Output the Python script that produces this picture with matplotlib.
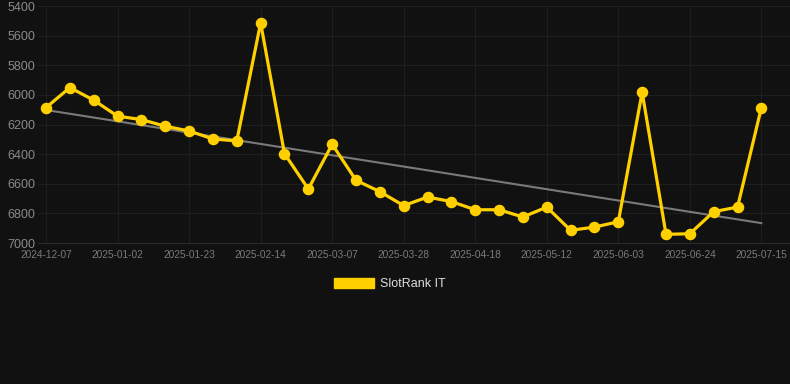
import matplotlib
matplotlib.use("Agg")
import matplotlib.pyplot as plt
from matplotlib.patches import Patch
import numpy as np

# SlotRank IT rank, one value per point (evenly spaced on the x axis)
rank = [6085, 5950, 6035, 6143, 6166, 6211, 6243, 6297, 6310, 5513,
        6396, 6635, 6333, 6576, 6653, 6747, 6689, 6720, 6775, 6775,
        6824, 6757, 6914, 6892, 6856, 5981, 6941, 6937, 6788, 6757,
        6085]
tick_labels = ["2024-12-07", "2025-01-02", "2025-01-23", "2025-02-14",
               "2025-03-07", "2025-03-28", "2025-04-18", "2025-05-12",
               "2025-06-03", "2025-06-24", "2025-07-15"]
y_ticks = [5400, 5600, 5800, 6000, 6200, 6400, 6600, 6800, 7000]

bg = "#111111"
gold = "#FFD000"

plt.rcParams['font.family'] = ['Liberation Sans', 'DejaVu Sans']

fig = plt.figure(figsize=(7.9, 3.84), dpi=100, facecolor=bg)
ax = fig.add_axes([0.048, 0.367, 0.952, 0.617], facecolor=bg)

x = np.arange(len(rank))
y = np.array(rank, dtype=float)

# trend line (least squares)
k, b = np.polyfit(x, y, 1)
ax.plot(x, k * x + b, color="#7a7a7a", lw=1.5, zorder=2)

ax.plot(x, y, color=gold, lw=2.3, marker="o", markersize=7.3,
        solid_joinstyle="miter", zorder=3)

ax.set_ylim(7000, 5400)
ax.set_xlim(-0.34, 31.2)
ax.set_yticks(y_ticks)
ax.set_xticks(x[::3])
ax.set_xticklabels(tick_labels)

ax.grid(True, color="#1e1e1e", lw=0.8, zorder=0)
ax.set_axisbelow(True)
for side in ["top", "right", "left"]:
    ax.spines[side].set_visible(False)
ax.spines["bottom"].set_color("#2a2a2a")
ax.tick_params(axis="y", length=0, pad=2, labelsize=9, labelcolor="#8a8a8a")
ax.tick_params(axis="x", length=0, pad=5, labelsize=7.3, labelcolor="#7a7a7a")

fig.legend(handles=[Patch(facecolor=gold, edgecolor=gold, label="SlotRank IT")],
           loc="center", bbox_to_anchor=(0.493, 0.26), frameon=False,
           fontsize=9, labelcolor="#dddddd", handlelength=3.2,
           handleheight=0.85, handletextpad=0.5)

fig.savefig("out.png", facecolor=bg)
